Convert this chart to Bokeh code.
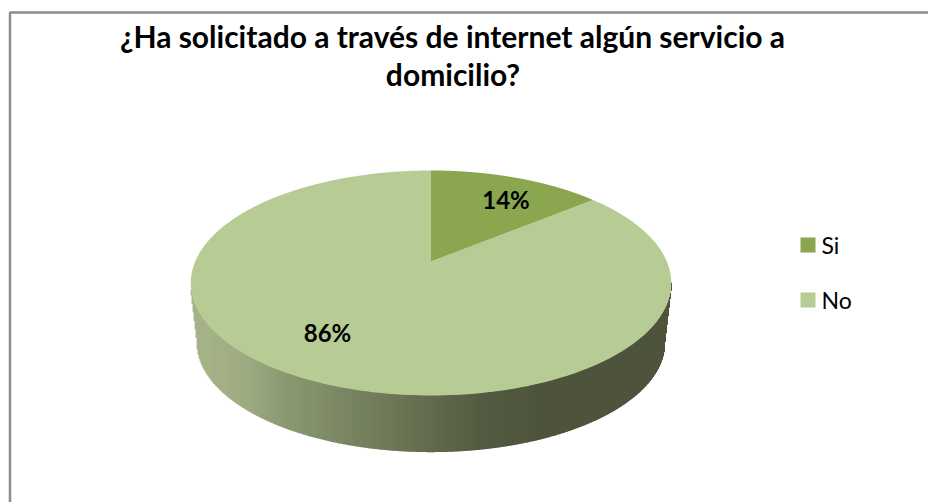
import numpy as np
from bokeh.core.properties import value
from bokeh.embed import file_html
from bokeh.models import Range1d
from bokeh.plotting import figure
from bokeh.resources import INLINE

# Survey answers
categories = ["Si", "No"]
percentages = [14, 86]
labels = ["14%", "86%"]
title_lines = ["¿Ha solicitado a través de internet algún servicio a", "domicilio?"]
slice_colors = ["#8AA64F", "#B7CC94"]

FONT = value("Lato")

# Tilted-disc projection, in page pixels
APEX_X, APEX_Y = 430.5, 261.0
RADIUS_X, RADIUS_Y, TILT = 235.8, 108.4, 0.191
DEPTH, BASE_SCALE = 60.0, 0.975


def project(fraction_start, fraction_end, scale=1.0, drop=0.0, n=240):
    """Map a clockwise arc of the disc, given as fractions of a turn from 12 o'clock."""
    angle = 2 * np.pi * np.linspace(fraction_start, fraction_end, n)
    u, v = np.sin(angle), np.cos(angle)
    d = 1 + TILT * v
    return (APEX_X + scale * RADIUS_X * u / d,
            APEX_Y + drop - scale * RADIUS_Y * v / d)


p = figure(width=928, height=502, output_backend="svg", toolbar_location=None,
           x_range=Range1d(0, 928), y_range=Range1d(502, 0), min_border=0,
           background_fill_color="white", border_fill_color="white")
p.axis.visible = False
p.grid.visible = False
p.outline_line_color = None

# Chart frame: only its left and top edges fall inside the page
p.line([9.5, 9.5, 928], [502, 12, 12], line_color="#8C8C8C", line_width=2.5)

# Cylinder wall: vertical slices between the rim and the base, shaded left to right
side_fraction = np.arccos(-TILT) / (2 * np.pi)
rim_x, rim_y = project(side_fraction, 1 - side_fraction, n=800)
base_x, base_y = project(side_fraction, 1 - side_fraction, BASE_SCALE, DEPTH, n=800)
rim_order, base_order = np.argsort(rim_x), np.argsort(base_x)
edge_x = np.r_[rim_x.min(), base_x[base_order], rim_x.max()]
edge_y = np.r_[rim_y[rim_order][0] + 8, base_y[base_order], rim_y[rim_order][-1] + 8]
shade_x = [190, 240, 280, 380, 480, 547, 672]
shade_rgb = np.array([[166, 180, 136], [159, 173, 130], [139, 154, 114],
                      [111, 122, 88], [82, 90, 64], [75, 82, 57], [75, 82, 57]])
columns = np.arange(rim_x.min(), rim_x.max(), 1.0)
wall_top = np.interp(columns + 0.5, rim_x[rim_order], rim_y[rim_order])
wall_bottom = np.interp(columns + 0.5, edge_x, edge_y)
rgb = np.column_stack([np.interp(columns, shade_x, shade_rgb[:, i]) for i in range(3)]).astype(int)
wall_colors = ["#%02x%02x%02x" % tuple(c) for c in rgb]
p.quad(left=columns - 0.2, right=columns + 1.2, top=wall_top - 0.5, bottom=wall_bottom,
       fill_color=wall_colors, line_color=None)

# Top face of the disc
fractions = np.cumsum([0] + percentages) / sum(percentages)
for i in (1, 0):
    ax, ay = project(fractions[i], fractions[i + 1])
    p.patch(np.r_[APEX_X, ax], np.r_[APEX_Y, ay], fill_color=slice_colors[i], line_color=None)

# Percentage labels on the slices
p.text([505.5, 327], [199, 331.5], text=labels, text_font=FONT, text_font_style="bold",
       text_font_size="24px", text_color="#000000", text_align="center", text_baseline="middle")

# Title
p.text([452, 452.5], [53, 91], text=title_lines, text_font=FONT, text_font_style="bold",
       text_font_size="30px", text_color="#000000", text_align="center", text_baseline="bottom")

# Legend
p.rect([807.5, 807.5], [244.5, 299.5], width=15, height=15, fill_color=slice_colors, line_color=None)
p.text([821, 821], [244.5, 299.5], text=categories, text_font=FONT, text_font_size="23px",
       text_color="#000000", text_align="left", text_baseline="middle")

open("out.html", "w").write(file_html(p, INLINE))
